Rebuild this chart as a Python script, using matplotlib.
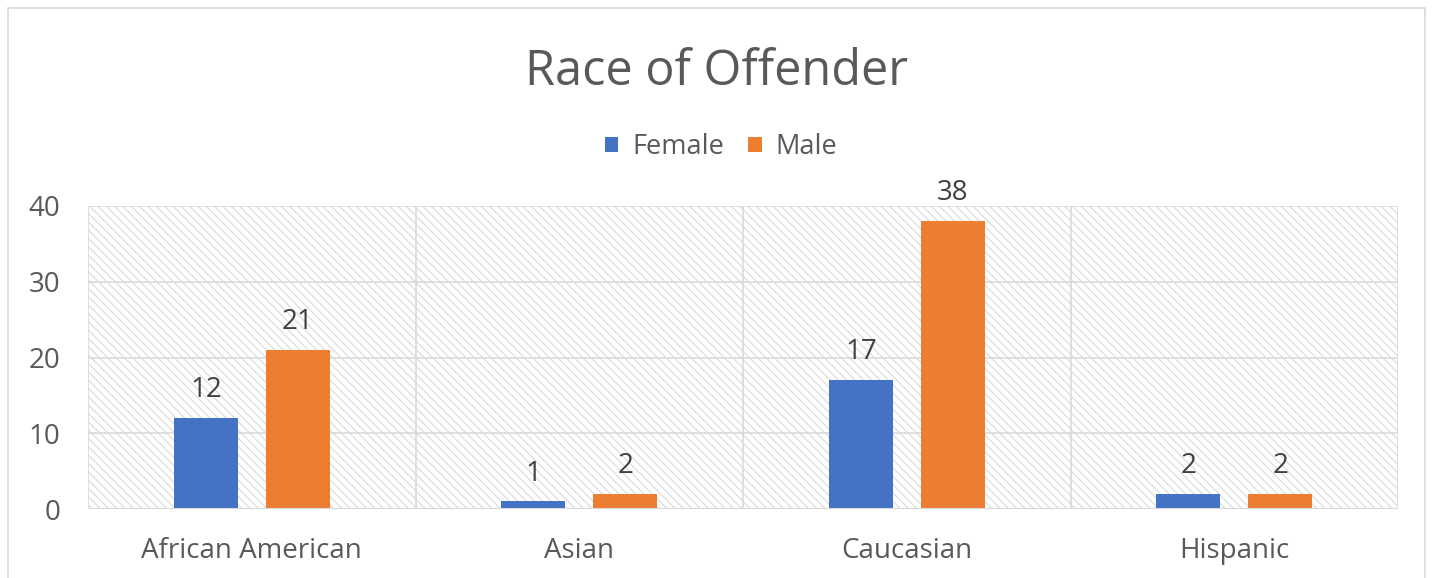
import matplotlib
matplotlib.use("Agg")
import matplotlib.pyplot as plt
import numpy as np
from matplotlib.patches import Rectangle, Patch

categories = ["African American", "Asian", "Caucasian", "Hispanic"]
female = [12, 1, 17, 2]
male = [21, 2, 38, 2]
yticks = [0, 10, 20, 30, 40]

BLUE = "#4472C4"
ORANGE = "#ED7D31"
TXT = "#595959"
GRID = "#D9D9D9"

plt.rcParams['font.family'] = ['Open Sans', 'DejaVu Sans']
plt.rcParams['hatch.linewidth'] = 0.8
plt.rcParams['hatch.color'] = "#D8D8D8"

fig = plt.figure(figsize=(14.34, 5.78), dpi=100)
ax = fig.add_axes([88/1434, 1-509/578, (1398-88)/1434, (509-206)/578])

# outer chart border
fig.patches.append(Rectangle((8/1434, -0.01), (1425-8)/1434, 1.01-8/578,
                             transform=fig.transFigure, fill=False,
                             edgecolor=GRID, linewidth=1.2))

x = np.arange(len(categories))
w = 0.195
off = 0.14

# hatched plot area background
ax.add_patch(Rectangle((-0.5, 0), 4, 40, facecolor="white", edgecolor=GRID,
                       hatch='\\' * 4, linewidth=0, zorder=0))

ax.set_xlim(-0.5, 3.5)
ax.set_ylim(0, 40)

for yv in yticks[1:]:
    ax.axhline(yv, color=GRID, linewidth=1.2, zorder=1)
for xv in [0.5, 1.5, 2.5, 3.5, -0.5]:
    ax.axvline(xv, color=GRID, linewidth=1.2, zorder=1)

b1 = ax.bar(x - off, female, w, color=BLUE, zorder=3, label="Female")
b2 = ax.bar(x + off, male, w, color=ORANGE, zorder=3, label="Male")
ax.axhline(0, color=GRID, linewidth=1.5, zorder=4)

for bars in (b1, b2):
    ax.bar_label(bars, padding=10, fontsize=20, color="#404040")

for s in ax.spines.values():
    s.set_visible(False)

ax.set_xticks(x)
ax.set_xticklabels(categories, fontsize=20, color=TXT)
ax.set_yticks(yticks)
ax.set_yticklabels([str(v) for v in yticks], fontsize=20, color=TXT)
ax.tick_params(axis='both', length=0)
ax.tick_params(axis='x', pad=20)
ax.tick_params(axis='y', pad=20)

fig.text(0.5, 1-72/578, "Race of Offender", ha="center", va="center",
         fontsize=35, color=TXT)

handles = [Patch(facecolor=BLUE, label="Female"), Patch(facecolor=ORANGE, label="Male")]
fig.legend(handles=handles, loc="center", bbox_to_anchor=(0.5 + 4/1434, 1-147/578),
           ncol=2, frameon=False, fontsize=19.5, labelcolor=TXT,
           handlelength=0.5, handleheight=0.5, handletextpad=0.5, columnspacing=0.9)

fig.savefig("out.png", dpi=100)
